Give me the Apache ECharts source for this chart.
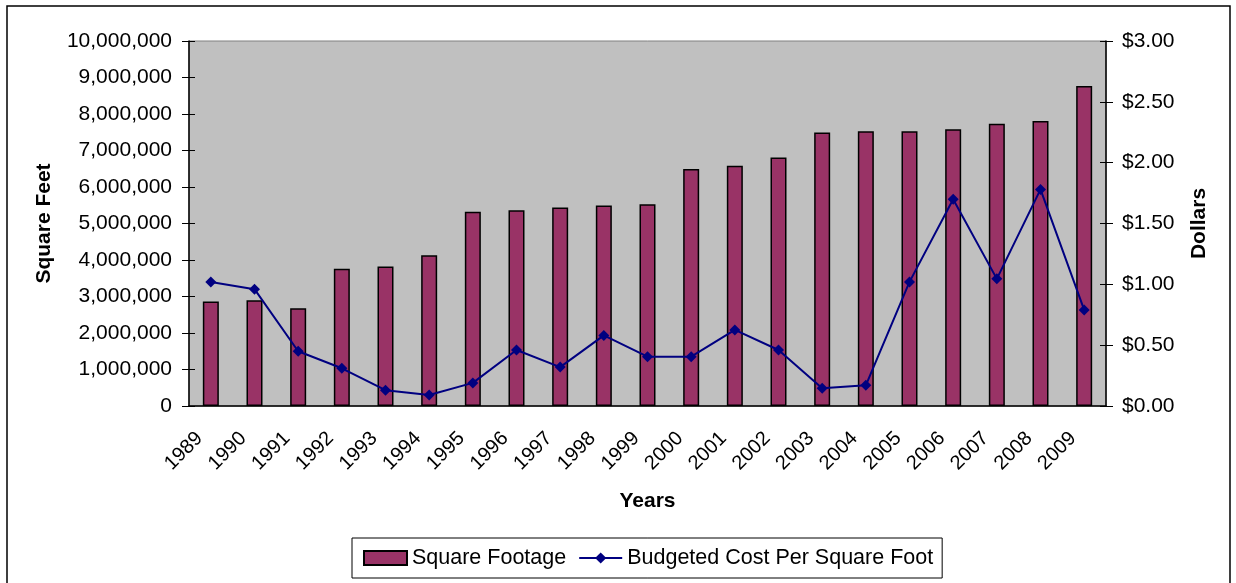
<!DOCTYPE html>
<html>
<head>
<meta charset="utf-8">
<script src="https://cdn.jsdelivr.net/npm/echarts@6/dist/echarts.min.js"></script>
<style>
html,body{margin:0;padding:0;background:#fff;}
#chart{width:1236px;height:583px;}
</style>
</head>
<body>
<div id="chart"></div>
<script>
var years = ['1989','1990','1991','1992','1993','1994','1995','1996','1997','1998','1999','2000','2001','2002','2003','2004','2005','2006','2007','2008','2009'];
var squareFootage = [2860000, 2900000, 2680000, 3760000, 3820000, 4130000, 5320000, 5360000, 5440000, 5490000, 5530000, 6490000, 6580000, 6810000, 7490000, 7530000, 7530000, 7580000, 7730000, 7810000, 8770000];
var costPerSqFt = [1.02, 0.96, 0.45, 0.31, 0.13, 0.09, 0.19, 0.46, 0.32, 0.58, 0.405, 0.405, 0.625, 0.46, 0.145, 0.17, 1.02, 1.70, 1.045, 1.78, 0.79];
var leftTicks = {min: 0, max: 10000000, interval: 1000000};
var rightTicks = {min: 0, max: 3, interval: 0.5};

var FONT = '"Liberation Sans", Arial, sans-serif';
var chart = echarts.init(document.getElementById('chart'), null, {renderer: 'canvas'});

var option = {
  animation: false,
  backgroundColor: '#ffffff',
  textStyle: {fontFamily: FONT},
  graphic: [{
    type: 'rect',
    shape: {x: 7, y: 6, width: 1223, height: 600},
    style: {fill: 'none', stroke: '#000', lineWidth: 1.5},
    silent: true, z: -1
  }],
  grid: {
    left: 189, top: 41, width: 917, height: 365,
    show: true, backgroundColor: '#c0c0c0', borderColor: '#808080', borderWidth: 1
  },
  legend: {
    left: 352, top: 538,
    padding: [9, 9, 9, 11],
    borderColor: '#000', borderWidth: 1,
    itemWidth: 43, itemHeight: 14, itemGap: 12,
    textStyle: {fontFamily: FONT, fontSize: 21.5, color: '#000'},
    data: [{name: 'Square Footage', icon: 'rect'}, {name: 'Budgeted Cost Per Square Foot'}]
  },
  xAxis: [{
    type: 'category', data: years, boundaryGap: true,
    name: 'Years', nameLocation: 'middle', nameGap: 85,
    nameTextStyle: {fontFamily: FONT, fontSize: 21, fontWeight: 'bold', color: '#000'},
    axisLine: {lineStyle: {color: '#000', width: 1.5}},
    axisTick: {length: 7, lineStyle: {color: '#000', width: 1}},
    axisLabel: {rotate: 45, interval: 0, margin: 18, padding: [0, 16, 0, 0], fontFamily: FONT, fontSize: 20, color: '#000'},
    splitLine: {show: false}
  }, {
    type: 'category', data: years, boundaryGap: true, position: 'bottom',
    axisLine: {show: false},
    axisTick: {inside: true, length: 6, lineStyle: {color: '#000', width: 1}},
    axisLabel: {show: false}, splitLine: {show: false}
  }],
  yAxis: [{
    type: 'value', position: 'left',
    min: leftTicks.min, max: leftTicks.max, interval: leftTicks.interval,
    name: 'Square Feet', nameLocation: 'middle', nameRotate: 90, nameGap: 134,
    nameTextStyle: {fontFamily: FONT, fontSize: 21, fontWeight: 'bold', color: '#000'},
    axisLine: {show: true, lineStyle: {color: '#000', width: 1.5}},
    axisTick: {show: true, length: 7, lineStyle: {color: '#000', width: 1}},
    axisLabel: {margin: 17, fontFamily: FONT, fontSize: 21, color: '#000',
      formatter: function (v) { return v.toLocaleString('en-US'); }},
    splitLine: {show: false}
  }, {
    type: 'value', position: 'right',
    min: rightTicks.min, max: rightTicks.max, interval: rightTicks.interval,
    name: 'Dollars', nameLocation: 'middle', nameRotate: 90, nameGap: 83,
    nameTextStyle: {fontFamily: FONT, fontSize: 21, fontWeight: 'bold', color: '#000'},
    axisLine: {show: true, lineStyle: {color: '#000', width: 1.5}},
    axisTick: {show: true, length: 7, lineStyle: {color: '#000', width: 1}},
    axisLabel: {margin: 16, fontFamily: FONT, fontSize: 21, color: '#000',
      formatter: function (v) { return '$' + v.toFixed(2); }},
    splitLine: {show: false}
  }, {
    type: 'value', position: 'left',
    min: leftTicks.min, max: leftTicks.max, interval: leftTicks.interval,
    axisLine: {show: false},
    axisTick: {show: true, inside: true, length: 6, lineStyle: {color: '#000', width: 1}},
    axisLabel: {show: false}, splitLine: {show: false}
  }, {
    type: 'value', position: 'right',
    min: rightTicks.min, max: rightTicks.max, interval: rightTicks.interval,
    axisLine: {show: false},
    axisTick: {show: true, inside: true, length: 6, lineStyle: {color: '#000', width: 1}},
    axisLabel: {show: false}, splitLine: {show: false}
  }],
  series: [{
    name: 'Square Footage', type: 'bar', xAxisIndex: 0, yAxisIndex: 0,
    data: squareFootage, barWidth: 16,
    itemStyle: {color: '#993366', borderColor: '#000', borderWidth: 1.5}
  }, {
    name: 'Budgeted Cost Per Square Foot', type: 'line', xAxisIndex: 0, yAxisIndex: 1,
    data: costPerSqFt, symbol: 'diamond', symbolSize: 11,
    lineStyle: {color: '#000080', width: 2},
    itemStyle: {color: '#000080'}
  }]
};
chart.setOption(option);
</script>
</body>
</html>
